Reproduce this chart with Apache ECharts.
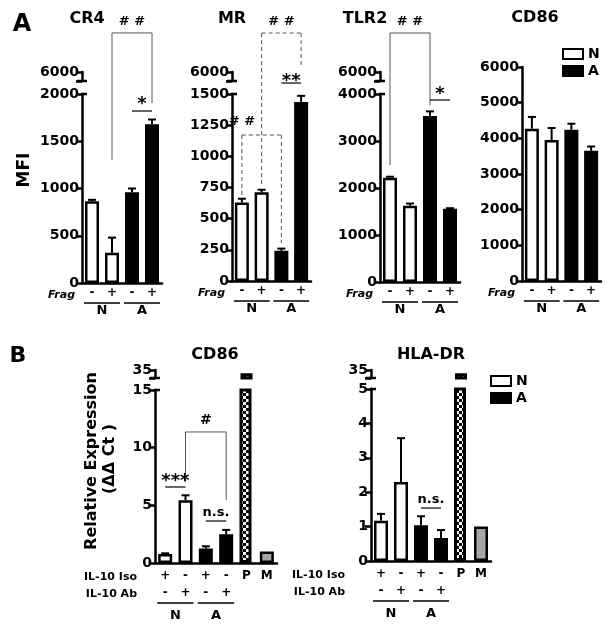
<!DOCTYPE html>
<html><head><meta charset="utf-8">
<script src="https://cdn.jsdelivr.net/npm/echarts@6/dist/echarts.min.js"></script>
<style>html,body{margin:0;padding:0;background:#fff}#c{width:613px;height:629px}</style>
</head><body><div id="c"></div>
<script>
// ---------------- DATA ----------------
const fragLabels = ['-', '+', '-', '+'];
const groupNames = ['N', 'A'];
const isoLabels = ['+', '-', '+', '-', 'P', 'M'];
const abLabels  = ['-', '+', '-', '+', '', ''];

// Panel A (MFI)
const cr4N = [865, 320];    const cr4NErr = [15, 160];
const cr4A = [960, 1680];   const cr4AErr = [40, 50];
const mrN = [630, 712];     const mrNErr = [30, 20];
const mrA = [242, 1435];    const mrAErr = [18, 50];
const tlr2N = [2220, 1620]; const tlr2NErr = [20, 50];
const tlr2A = [3530, 1560]; const tlr2AErr = [100, 10];
const cd86N = [4270, 3950]; const cd86NErr = [330, 340];
const cd86A = [4240, 3650]; const cd86AErr = [170, 120];

// Panel B (relative expression)
const bCd86N = [0.78, 5.45]; const bCd86NErr = [0.06, 0.42];
const bCd86A = [1.25, 2.5];  const bCd86AErr = [0.2, 0.37];
const bCd86P = 33; const bCd86M = 1.0;
const hlaN = [1.17, 2.3];  const hlaNErr = [0.2, 1.27];
const hlaA = [1.04, 0.67]; const hlaAErr = [0.26, 0.23];
const hlaP = 33; const hlaM = 1.0;

// axis ranges [min, max, interval]
const cr4Axis = [0, 2000, 500];
const mrAxis = [0, 1500, 250];
const tlr2Axis = [0, 4000, 1000];
const cd86Axis = [0, 6000, 1000];
const bCd86Axis = [0, 15, 5];
const hlaAxis = [0, 5, 1];
const breakA = [5000, 6000];
const breakB = [30, 35];

// ---------------- BUILD ----------------
const FF = 'DejaVu Sans';
const txt = (size, style) => ({fontFamily: FF, fontWeight: 'bold', fontSize: size, color: '#000', fontStyle: style || 'normal'});
const AX = {color: '#000', width: 2.5};

const pc = document.createElement('canvas'); pc.width = 6; pc.height = 6;
const pctx = pc.getContext('2d');
pctx.fillStyle = '#fff'; pctx.fillRect(0, 0, 6, 6);
pctx.fillStyle = '#000'; pctx.fillRect(0, 0, 3, 3); pctx.fillRect(3, 3, 3, 3);

const styleN = {color: '#fff', borderColor: '#000', borderWidth: 2.5};
const styleA = {color: '#000', borderColor: '#000', borderWidth: 2.5};
const styleP = {color: {image: pc, repeat: 'repeat'}, borderColor: '#000', borderWidth: 3};
const styleM = {color: '#a6a6a6', borderColor: '#000', borderWidth: 2.5};

const grids = [], xAxis = [], yAxis = [], series = [];

function addGrid(l, t, w, h) {
  grids.push({left: l, top: t, width: w, height: h, containLabel: false, outerBoundsMode: 'none'});
  return grids.length - 1;
}
function xAx(g, labels, extra) {
  const a = {type: 'category', gridIndex: g, position: 'bottom', data: labels.map((_, i) => 'c' + i),
    axisLine: {show: true, onZero: false, lineStyle: AX}, axisTick: {show: false},
    axisLabel: Object.assign(txt(12), {margin: 4, interval: 0, formatter: (v, i) => labels[i]})};
  if (extra) {
    if (extra.axisLabel) { Object.assign(a.axisLabel, extra.axisLabel); }
    Object.keys(extra).forEach(k => { if (k !== 'axisLabel') a[k] = extra[k]; });
  }
  xAxis.push(a);
  return xAxis.length - 1;
}
function yAx(g, min, max, interval, fmt) {
  yAxis.push({type: 'value', gridIndex: g, min: min, max: max, interval: interval,
    axisLine: {show: true, lineStyle: AX}, axisTick: {show: true, length: 6, lineStyle: AX},
    splitLine: {show: false},
    axisLabel: Object.assign(txt(14), {margin: 3, formatter: fmt || (v => String(v))})});
  return yAxis.length - 1;
}
function barS(name, xi, yi, data, itemStyle, w) {
  return {type: 'bar', name: name, xAxisIndex: xi, yAxisIndex: yi, data: data, barWidth: w || 14,
    barGap: '-100%', itemStyle: itemStyle, silent: true, animation: false};
}
function errS(xi, yi, data) {
  return {type: 'custom', xAxisIndex: xi, yAxisIndex: yi, data: data, silent: true, z: 4, animation: false,
    renderItem: (p, api) => {
      const x = api.value(0), v = api.value(1), e = api.value(2);
      const a = api.coord([x, v]), b = api.coord([x, v + e]);
      return {type: 'group', children: [
        {type: 'line', shape: {x1: a[0], y1: a[1], x2: b[0], y2: b[1]}, style: {stroke: '#000', lineWidth: 2}},
        {type: 'line', shape: {x1: b[0] - 4, y1: b[1], x2: b[0] + 4, y2: b[1]}, style: {stroke: '#000', lineWidth: 2}}
      ]};
    }};
}
function axisX(api) {
  return api.coord([0, 0])[0] - api.size([1, 0])[0] / 2;
}
function annot(xi, yi, o) {
  return {type: 'custom', xAxisIndex: xi, yAxisIndex: yi, data: [[0, 0]], silent: true, clip: false, z: 10, animation: false,
    renderItem: (params, api) => {
      const ch = [];
      const y0 = api.coord([0, o.yRange[0]])[1];
      const ax = axisX(api);
      const T = (text, x, y, size, align, style) => ch.push({type: 'text', x: x, y: y,
        style: {text: text, fill: '#000', font: (style || 'normal') + ' bold ' + size + 'px "' + FF + '"',
          align: align || 'center', textAlign: align || 'center', verticalAlign: 'middle', textVerticalAlign: 'middle'}});
      const Ln = (x1, y1, x2, y2, color, lw, dash) => ch.push({type: 'line', shape: {x1: x1, y1: y1, x2: x2, y2: y2},
        style: {stroke: color || '#000', lineWidth: lw || 1.5, lineDash: dash || null}});
      groupNames.forEach((name, gi) => {
        const xa = api.coord([gi * 2, 0])[0], xb = api.coord([gi * 2 + 1, 0])[0];
        Ln(xa - 8, y0 + o.grpDy, xb + 8, y0 + o.grpDy, '#000', 1.5);
        T(name, (xa + xb) / 2, y0 + o.grpTy, 13);
      });
      o.rows.forEach(r => T(r.text, ax - o.rowDx, y0 + r.dy, 11, 'right', r.italic ? 'italic' : 'normal'));
      (o.sig || []).forEach(s => {
        const x1 = api.coord([s.x1, 0])[0], x2 = api.coord([s.x2, 0])[0];
        const yt = api.coord([0, s.top])[1];
        const dash = s.dash ? [4, 3] : null;
        Ln(x1, yt, x2, yt, s.color, s.lw, dash);
        if (s.y1 != null) Ln(x1, yt, x1, api.coord([0, s.y1])[1], s.color, s.lw, dash);
        if (s.y2 != null) Ln(x2, yt, x2, api.coord([0, s.y2])[1], s.color, s.lw, dash);
        const lx = s.lx != null ? api.coord([s.lx, 0])[0] : (x1 + x2) / 2;
        T(s.label, lx, api.coord([0, s.ly])[1], s.size);
      });
      if (o.brk) {
        const yt = api.coord([0, o.yRange[1]])[1];
        Ln(ax - 1, yt, ax + 5, yt, '#000', 2.5);
      }
      return {type: 'group', children: ch};
    }};
}

function panel(o) {
  const g = addGrid(o.rect[0], o.rect[1], o.rect[2], o.rect[3]);
  const xi = xAx(g, o.labels, {axisLabel: {margin: o.lblMargin}});
  if (o.labels2) xAx(g, o.labels2, {offset: o.off2, axisLine: {show: false}, axisLabel: {margin: o.lblMargin}});
  const yi = yAx(g, o.yRange[0], o.yRange[1], o.yRange[2]);
  const nData = o.labels.map((_, i) => i < 2 ? o.nVals[i] : '-');
  const aData = o.labels.map((_, i) => (i >= 2 && i < 4) ? o.aVals[i - 2] : '-');
  series.push(barS('N', xi, yi, nData, styleN), barS('A', xi, yi, aData, styleA));
  if (o.pVal != null) series.push(barS('P', xi, yi, o.labels.map((_, i) => i === 4 ? o.pVal : '-'), styleP, 12));
  if (o.mVal != null) series.push(barS('M', xi, yi, o.labels.map((_, i) => i === 5 ? o.mVal : '-'), styleM));
  const err = [[0, o.nVals[0], o.nErr[0]], [1, o.nVals[1], o.nErr[1]], [2, o.aVals[0], o.aErr[0]], [3, o.aVals[1], o.aErr[1]]];
  series.push(errS(xi, yi, err));
  series.push(annot(xi, yi, o));
  if (o.brk) {
    const g2 = addGrid(o.rect[0], o.brk.top, o.rect[2], o.brk.h);
    const xi2 = xAx(g2, o.labels, {show: false});
    const r = o.brk.range;
    const yi2 = yAx(g2, r[0], r[1], r[1] - r[0], v => v === r[1] ? String(v) : '');
    if (o.pVal != null) series.push(barS('P', xi2, yi2, o.labels.map((_, i) => i === 4 ? o.pVal : '-'), styleP, 12));
    series.push({type: 'custom', xAxisIndex: xi2, yAxisIndex: yi2, data: [[0, 0]], clip: false, silent: true, animation: false,
      renderItem: (p, api) => {
        const ax = axisX(api);
        const yb = api.coord([0, r[0]])[1];
        return {type: 'line', shape: {x1: ax - 5, y1: yb, x2: ax + 5, y2: yb}, style: {stroke: '#000', lineWidth: 2.5}};
      }});
  }
}

const rowsA = [{text: 'Frag', dy: 12, italic: true}];
const rowsB = [{text: 'IL-10 Iso', dy: 14}, {text: 'IL-10 Ab', dy: 31}];
const baseA = {labels: fragLabels, rows: rowsA, grpDy: 20, grpTy: 28, rowDx: 7, lblMargin: 4};
const baseB = {labels: isoLabels, labels2: abLabels, off2: 17, rows: rowsB, grpDy: 40, grpTy: 53, rowDx: 18, lblMargin: 7};
const G = '#555';

panel(Object.assign({}, baseA, {rect: [82, 94, 80, 189], yRange: cr4Axis, nVals: cr4N, nErr: cr4NErr, aVals: cr4A, aErr: cr4AErr,
  brk: {top: 72, h: 9, range: breakA},
  sig: [{x1: 1, x2: 3, top: 2646, y1: 1302, y2: 1905, label: '# #', ly: 2762, color: G, lw: 1, size: 13},
        {x1: 2.15, x2: 3, top: 1820, label: '*', ly: 1889, color: '#000', lw: 1.2, size: 18}]}));
panel(Object.assign({}, baseA, {rect: [232, 94, 79, 187], yRange: mrAxis, nVals: mrN, nErr: mrNErr, aVals: mrA, aErr: mrAErr,
  brk: {top: 72, h: 9, range: breakA},
  sig: [{x1: 1, x2: 3, top: 1989, y1: 762, y2: 1709, label: '# #', ly: 2078, color: G, lw: 1, size: 13, dash: true},
        {x1: 2, x2: 3, top: 1588, label: '**', ly: 1600, color: '#000', lw: 1.2, size: 18},
        {x1: 0, x2: 2, top: 1171, y1: 674, y2: 305, label: '# #', ly: 1275, lx: 0, color: G, lw: 1, size: 13, dash: true}]}));
panel(Object.assign({}, baseA, {rect: [380, 94, 80, 188], yRange: tlr2Axis, nVals: tlr2N, nErr: tlr2NErr, aVals: tlr2A, aErr: tlr2AErr,
  brk: {top: 72, h: 9, range: breakA},
  sig: [{x1: 0, x2: 2, top: 5298, y1: 2489, y2: 3766, label: '# #', ly: 5532, color: G, lw: 1, size: 13},
        {x1: 2.1, x2: 3, top: 3872, label: '*', ly: 4000, color: '#000', lw: 1.2, size: 18}]}));
panel(Object.assign({}, baseA, {rect: [522, 67, 79, 214], yRange: cd86Axis, nVals: cd86N, nErr: cd86NErr, aVals: cd86A, aErr: cd86AErr}));

panel(Object.assign({}, baseB, {rect: [155, 390, 122, 173], yRange: bCd86Axis, nVals: bCd86N, nErr: bCd86NErr, aVals: bCd86A, aErr: bCd86AErr,
  pVal: bCd86P, mVal: bCd86M, brk: {top: 370, h: 8, range: breakB},
  sig: [{x1: 1, x2: 3, top: 11.36, y1: 7.02, y2: 5.46, label: '#', ly: 12.4, color: G, lw: 1, size: 14},
        {x1: 0.1, x2: 1, top: 6.59, label: '***', ly: 7.1, color: '#000', lw: 1.2, size: 18},
        {x1: 2, x2: 3, top: 3.64, label: 'n.s.', ly: 4.34, color: '#000', lw: 1.2, size: 13}]}));
panel(Object.assign({}, baseB, {rect: [371, 389, 120, 172], yRange: hlaAxis, nVals: hlaN, nErr: hlaNErr, aVals: hlaA, aErr: hlaAErr,
  pVal: hlaP, mVal: hlaM, brk: {top: 370, h: 8, range: breakB}, rowDx: 26,
  sig: [{x1: 2, x2: 3, top: 1.54, label: 'n.s.', ly: 1.78, color: '#000', lw: 1.2, size: 13}]}));

const T = (text, x, y, size, rot) => ({type: 'text', x: x, y: y, rotation: rot || 0,
  style: {text: text, fill: '#000', font: 'bold ' + size + 'px "' + FF + '"', align: 'center', textAlign: 'center', verticalAlign: 'middle', textVerticalAlign: 'middle'}});

const legendBase = {data: ['N', 'A'], orient: 'vertical', icon: 'rect', itemWidth: 20, itemHeight: 10, itemGap: 3,
  padding: 0, textStyle: txt(14), selectedMode: false};

const option = {
  animation: false,
  backgroundColor: '#fff',
  grid: grids, xAxis: xAxis, yAxis: yAxis, series: series,
  legend: [Object.assign({left: 562, top: 47}, legendBase), Object.assign({left: 490, top: 374}, legendBase)],
  graphic: [
    T('A', 22, 25, 24), T('B', 18, 356, 22),
    T('CR4', 87, 19, 16), T('MR', 232, 19, 16), T('TLR2', 365, 19, 16), T('CD86', 535, 18, 16),
    T('MFI', 25, 170, 17, Math.PI / 2),
    T('CD86', 215, 355, 16), T('HLA-DR', 431, 355, 16),
    T('Relative Expression', 92, 461, 16, Math.PI / 2), T('(ΔΔ Ct )', 110, 459, 16, Math.PI / 2)
  ]
};
const chart = echarts.init(document.getElementById('c'));
chart.setOption(option);
</script></body></html>
